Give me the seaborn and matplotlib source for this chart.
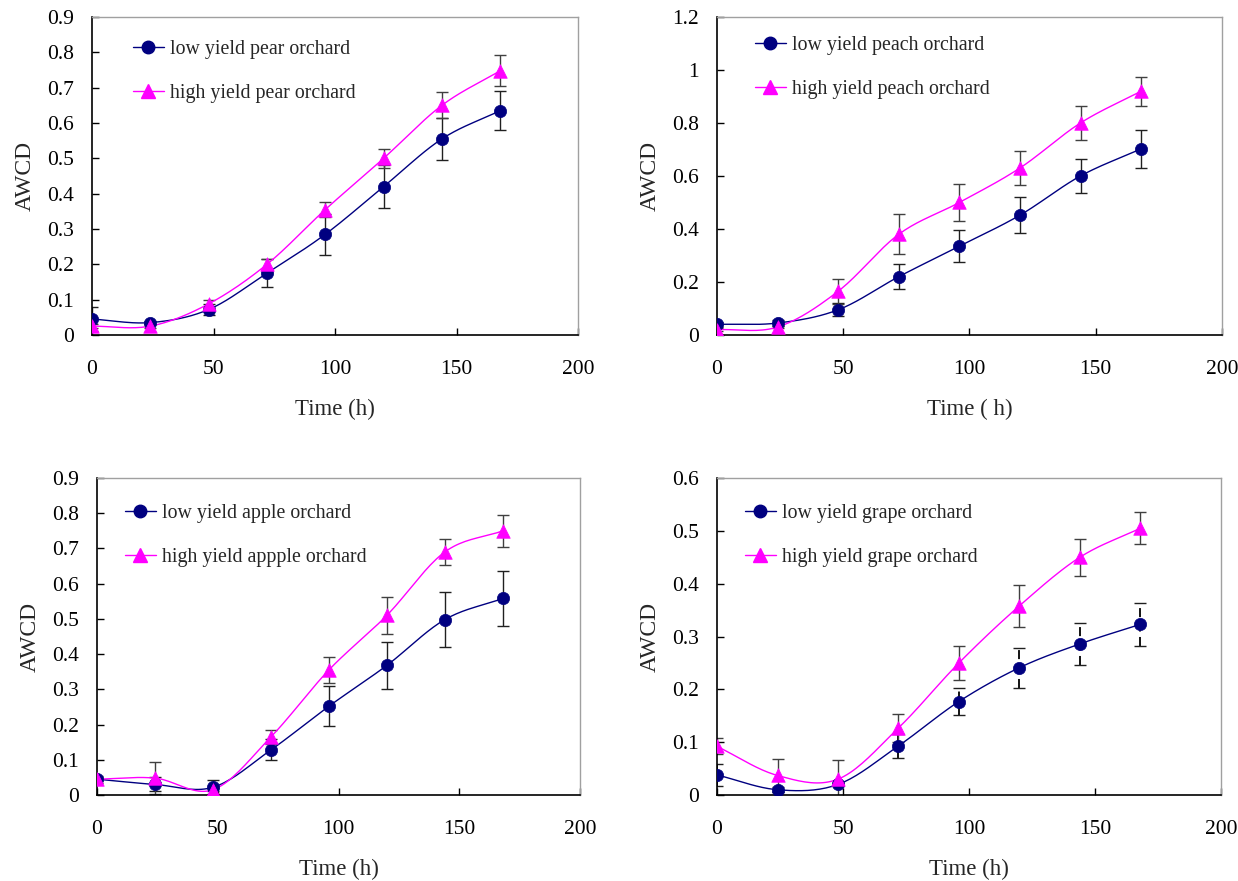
import numpy as np
import matplotlib
matplotlib.use("Agg")
import matplotlib.pyplot as plt
import seaborn as sns
from matplotlib.lines import Line2D

# sampling times (h)
hours = [0, 24, 48, 72, 96, 120, 144, 168]

# pear
pear_low = [0.045, 0.035, 0.072, 0.175, 0.285, 0.42, 0.555, 0.635]
pear_low_err = [0.033, 0.005, 0.015, 0.04, 0.058, 0.06, 0.06, 0.055]
pear_high = [0.025, 0.025, 0.088, 0.2, 0.355, 0.5, 0.65, 0.748]
pear_high_err = [0.005, 0.005, 0.01, 0.015, 0.02, 0.027, 0.037, 0.043]

# peach
peach_low = [0.04, 0.045, 0.095, 0.22, 0.335, 0.452, 0.6, 0.702]
peach_low_err = [0.01, 0.012, 0.025, 0.048, 0.06, 0.068, 0.065, 0.073]
peach_high = [0.02, 0.03, 0.165, 0.38, 0.5, 0.63, 0.8, 0.92]
peach_high_err = [0.005, 0.005, 0.048, 0.075, 0.07, 0.065, 0.063, 0.055]

# apple
apple_low = [0.045, 0.03, 0.022, 0.128, 0.252, 0.368, 0.498, 0.558]
apple_low_err = [0.01, 0.02, 0.02, 0.03, 0.057, 0.067, 0.077, 0.077]
apple_high = [0.045, 0.048, 0.015, 0.165, 0.355, 0.51, 0.69, 0.75]
apple_high_err = [0.005, 0.045, 0.005, 0.02, 0.038, 0.053, 0.038, 0.046]

# grape
grape_low = [0.038, 0.01, 0.02, 0.093, 0.177, 0.241, 0.286, 0.323]
grape_low_err = [0.021, 0.005, 0.003, 0.022, 0.025, 0.038, 0.04, 0.04]
grape_high = [0.092, 0.037, 0.03, 0.127, 0.25, 0.358, 0.45, 0.505]
grape_high_err = [0.015, 0.032, 0.036, 0.026, 0.032, 0.04, 0.035, 0.03]

LOW_COLOR = "#000080"
HIGH_COLOR = "#FF00FF"

sns.set_theme(style="white")
plt.rcParams['font.family'] = ['Liberation Serif', 'DejaVu Serif']


def smooth(x, y, n=20):
    """Catmull-Rom style smoothing, like Excel's smoothed lines."""
    x = np.asarray(x, float)
    y = np.asarray(y, float)
    px = np.concatenate([[2 * x[0] - x[1]], x, [2 * x[-1] - x[-2]]])
    py = np.concatenate([[2 * y[0] - y[1]], y, [2 * y[-1] - y[-2]]])
    xs, ys = [], []
    t = np.linspace(0, 1, n, endpoint=False)
    for i in range(1, len(px) - 2):
        for arr, out in ((px, xs), (py, ys)):
            p0, p1, p2, p3 = arr[i - 1], arr[i], arr[i + 1], arr[i + 2]
            out.extend(0.5 * ((2 * p1) + (-p0 + p2) * t
                              + (2 * p0 - 5 * p1 + 4 * p2 - p3) * t ** 2
                              + (-p0 + 3 * p1 - 3 * p2 + p3) * t ** 3))
    xs.append(x[-1])
    ys.append(y[-1])
    return np.array(xs), np.array(ys)


def draw_panel(ax, low, low_err, high, high_err, labels, ymax, ystep, xlabel,
               legend_at, low_dashed=False):
    # error bars
    eb = ax.errorbar(hours, low, yerr=low_err, fmt='none', ecolor='#202020',
                     elinewidth=1, capsize=4, capthick=1, zorder=2)
    if low_dashed:
        eb[2][0].set_linestyle((0, (5, 3)))
        eb[2][0].set_linewidth(1.3)
        eb[2][0].set_color('black')
    ax.errorbar(hours, high, yerr=high_err, fmt='none', ecolor='#404040',
                elinewidth=1, capsize=4, capthick=1, zorder=2)

    # smoothed lines
    for vals, color in ((low, LOW_COLOR), (high, HIGH_COLOR)):
        sx, sy = smooth(hours, vals)
        sns.lineplot(x=sx, y=sy, sort=False, color=color, linewidth=1,
                     ax=ax, zorder=3)

    # markers
    sns.scatterplot(x=hours, y=low, marker='o', s=78, color=LOW_COLOR,
                    edgecolor=LOW_COLOR, linewidth=0.5, ax=ax, zorder=4)
    sns.scatterplot(x=hours, y=high, marker='^', s=95, color=HIGH_COLOR,
                    edgecolor=HIGH_COLOR, linewidth=0.5, ax=ax, zorder=5)

    handles = [
        Line2D([], [], color=LOW_COLOR, lw=1, marker='o', markersize=9),
        Line2D([], [], color=HIGH_COLOR, lw=1, marker='^', markersize=9.5),
    ]
    ax.legend(handles, labels, loc='upper left', bbox_to_anchor=legend_at,
              frameon=False, fontsize=14.3, handlelength=1.55,
              handletextpad=0.3, labelspacing=1.25, borderaxespad=0,
              borderpad=0)

    ax.set_xlim(0, 200)
    ax.set_ylim(0, ymax)
    ax.set_xticks([0, 50, 100, 150, 200])
    ax.set_yticks(np.round(np.arange(0, ymax + 1e-9, ystep), 2))
    ax.yaxis.set_major_formatter(matplotlib.ticker.FuncFormatter(
        lambda v, p: ('%g' % round(v, 2))))
    ax.tick_params(axis='x', direction='in', length=5, width=1, pad=18,
                   labelsize=15.5, colors='black', bottom=True)
    ax.tick_params(axis='y', direction='in', length=5, width=1, pad=13,
                   labelsize=15.5, colors='black', left=True)
    for side in ('left', 'bottom'):
        ax.spines[side].set_color('black')
        ax.spines[side].set_linewidth(1.2)
    for side in ('top', 'right'):
        ax.spines[side].set_color('#a0a0a0')
        ax.spines[side].set_linewidth(1)
    ax.set_xlabel(xlabel, fontsize=16.5, labelpad=14)
    ax.set_ylabel('AWCD', fontsize=17, labelpad=8)


fig = plt.figure(figsize=(12.38, 8.81), dpi=100)
ax1 = fig.add_axes([0.0743, 0.6198, 0.3927, 0.3610])
ax2 = fig.add_axes([0.5792, 0.6198, 0.4078, 0.3610])
ax3 = fig.add_axes([0.0784, 0.0976, 0.3901, 0.3598])
ax4 = fig.add_axes([0.5792, 0.0976, 0.4070, 0.3598])

draw_panel(ax1, pear_low, pear_low_err, pear_high, pear_high_err,
           ['low yield pear orchard', 'high yield pear orchard'],
           0.9, 0.1, 'Time (h)', (0.084, 0.928))
draw_panel(ax2, peach_low, peach_low_err, peach_high, peach_high_err,
           ['low yield peach orchard', 'high yield peach orchard'],
           1.2, 0.2, 'Time ( h)', (0.075, 0.94))
draw_panel(ax3, apple_low, apple_low_err, apple_high, apple_high_err,
           ['low yield apple orchard', 'high yield appple orchard'],
           0.9, 0.1, 'Time (h)', (0.058, 0.917))
draw_panel(ax4, grape_low, grape_low_err, grape_high, grape_high_err,
           ['low yield grape orchard', 'high yield grape orchard'],
           0.6, 0.1, 'Time (h)', (0.055, 0.918), low_dashed=True)

fig.savefig('out.png', dpi=100)
